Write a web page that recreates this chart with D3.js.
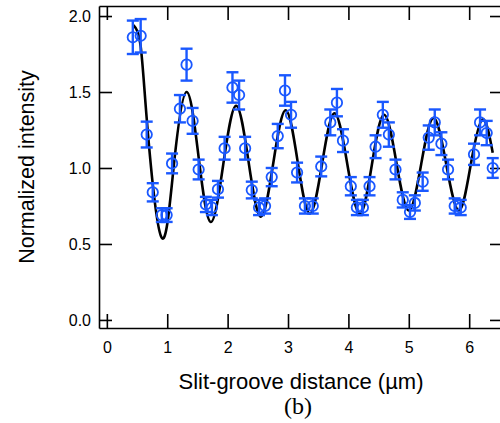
<!DOCTYPE html>
<html>
<head>
<meta charset="utf-8">
<script src="https://cdn.jsdelivr.net/npm/d3@7"></script>
<style>
  body { margin: 0; background: #fff; }
  svg { display: block; }
</style>
</head>
<body>
<svg id="chart"></svg>
<script>
// --- data ---

// measured points (slit-groove distance in µm, normalized intensity, error)
const distance = [0.43, 0.56, 0.66, 0.76, 0.91, 0.99, 1.08, 1.21, 1.32, 1.42,
  1.52, 1.64, 1.74, 1.84, 1.95, 2.08, 2.19, 2.29, 2.40, 2.52,
  2.62, 2.73, 2.83, 2.95, 3.05, 3.15, 3.28, 3.41, 3.55, 3.70,
  3.81, 3.91, 4.04, 4.14, 4.24, 4.35, 4.45, 4.57, 4.67, 4.78,
  4.90, 5.02, 5.10, 5.23, 5.33, 5.43, 5.54, 5.65, 5.76, 5.86,
  6.08, 6.18, 6.29, 6.39];
const intensity = [1.86, 1.87, 1.22, 0.84, 0.69, 0.69, 1.03, 1.39, 1.68, 1.31,
  0.99, 0.76, 0.74, 0.86, 1.13, 1.53, 1.48, 1.13, 0.855, 0.74,
  0.75, 0.94, 1.21, 1.51, 1.35, 0.97, 0.75, 0.75, 1.01, 1.30,
  1.43, 1.18, 0.88, 0.74, 0.74, 0.88, 1.14, 1.35, 1.22, 0.99,
  0.79, 0.71, 0.77, 0.91, 1.20, 1.30, 1.16, 0.99, 0.75, 0.74,
  1.09, 1.30, 1.23, 1.00];
const errorBar = [0.11, 0.11, 0.085, 0.06, 0.045, 0.045, 0.065, 0.09, 0.105, 0.085,
  0.065, 0.05, 0.05, 0.055, 0.075, 0.1, 0.095, 0.075, 0.055, 0.05,
  0.05, 0.06, 0.08, 0.1, 0.085, 0.065, 0.05, 0.05, 0.065, 0.085,
  0.09, 0.075, 0.06, 0.05, 0.05, 0.06, 0.075, 0.085, 0.08, 0.065,
  0.05, 0.045, 0.05, 0.06, 0.08, 0.085, 0.075, 0.065, 0.05, 0.05,
  0.07, 0.085, 0.08, 0.065];

// fitted curve, read at peaks, troughs and crossings
const fitX = [0.44, 0.56, 0.68, 0.91, 1.11, 1.32, 1.52, 1.72, 1.93, 2.14,
  2.345, 2.55, 2.755, 2.96, 3.16, 3.36, 3.565, 3.77, 3.98, 4.19,
  4.39, 4.59, 4.795, 5.0, 5.205, 5.41, 5.62, 5.83, 6.025, 6.22, 6.39];
const fitY = [1.94, 1.80, 1.23, 0.54, 1.02, 1.50, 1.07, 0.645, 1.03, 1.41,
  1.045, 0.68, 1.03, 1.38, 1.04, 0.70, 1.03, 1.36, 1.03, 0.70,
  1.025, 1.35, 1.035, 0.72, 1.025, 1.33, 1.025, 0.72, 1.02, 1.32, 1.10];

// tick labels
const xTicks = [0, 1, 2, 3, 4, 5, 6];
const yTicks = [0, 0.5, 1, 1.5, 2];

// --- setup ---
const width = 500;
const height = 423;
const blue = '#1a58ff';

const svg = d3.select('#chart')
    .attr('width', width)
    .attr('height', height)
    .style('font-family', '"Liberation Sans", Arial, sans-serif');

// frame edges: left 99, right 503 (just past the edge), top 6, bottom 328
const x = d3.scaleLinear().domain([-0.13, 6.56]).range([99, 503]);
const y = d3.scaleLinear().domain([-0.053, 2.066]).range([328, 6]);

// --- axes (ticks point inward on all four sides) ---
function styleAxis(g) {
    g.selectAll('path').attr('stroke', '#000').attr('stroke-width', 1.6);
    g.selectAll('line').attr('stroke', '#000').attr('stroke-width', 1.6);
    g.selectAll('text').attr('fill', '#000').style('font-size', '16px');
}

svg.append('g')
    .attr('transform', 'translate(0,328)')
    .call(d3.axisBottom(x).tickValues(xTicks).tickFormat(d3.format('d'))
        .tickSizeInner(-14).tickSizeOuter(0).tickPadding(14))
    .call(styleAxis);

svg.append('g')
    .attr('transform', 'translate(0,6)')
    .call(d3.axisTop(x).tickValues(xTicks).tickFormat('')
        .tickSizeInner(-14).tickSizeOuter(0))
    .call(styleAxis);

svg.append('g')
    .attr('transform', 'translate(99,0)')
    .call(d3.axisLeft(y).tickValues(yTicks).tickFormat(d3.format('.1f'))
        .tickSizeInner(-13).tickSizeOuter(0).tickPadding(8))
    .call(styleAxis);

svg.append('g')
    .attr('transform', 'translate(503,0)')
    .call(d3.axisRight(y).tickValues(yTicks).tickFormat('')
        .tickSizeInner(-13).tickSizeOuter(0))
    .call(styleAxis);

svg.selectAll('.domain').attr('fill', 'none');

// --- fitted curve ---
const fitPoints = fitX.map((d, i) => [d, fitY[i]]);
svg.append('path')
    .datum(fitPoints)
    .attr('fill', 'none')
    .attr('stroke', '#000')
    .attr('stroke-width', 2.6)
    .attr('d', d3.line().x(d => x(d[0])).y(d => y(d[1])).curve(d3.curveNatural));

// --- measured points with error bars ---
const points = distance.map((d, i) => ({ x: d, y: intensity[i], e: errorBar[i] }));
const pt = svg.append('g').selectAll('g').data(points).enter().append('g')
    .attr('stroke', blue)
    .attr('stroke-width', 2.4)
    .attr('fill', 'none');

pt.append('line')
    .attr('x1', d => x(d.x)).attr('x2', d => x(d.x))
    .attr('y1', d => y(d.y - d.e)).attr('y2', d => y(d.y + d.e));
pt.append('line')
    .attr('x1', d => x(d.x) - 6).attr('x2', d => x(d.x) + 6)
    .attr('y1', d => y(d.y + d.e)).attr('y2', d => y(d.y + d.e));
pt.append('line')
    .attr('x1', d => x(d.x) - 6).attr('x2', d => x(d.x) + 6)
    .attr('y1', d => y(d.y - d.e)).attr('y2', d => y(d.y - d.e));
pt.append('circle')
    .attr('cx', d => x(d.x)).attr('cy', d => y(d.y))
    .attr('r', 5.2)
    .attr('stroke-width', 1.8);

// --- titles ---
svg.append('text')
    .attr('x', 301).attr('y', 389)
    .attr('text-anchor', 'middle')
    .style('font-size', '22px')
    .text('Slit-groove distance (µm)');

svg.append('text')
    .attr('transform', 'translate(34,167) rotate(-90)')
    .attr('text-anchor', 'middle')
    .style('font-size', '21.5px')
    .text('Normalized intensity');

svg.append('text')
    .attr('x', 298).attr('y', 414)
    .attr('text-anchor', 'middle')
    .style('font-family', '"Liberation Serif", "Times New Roman", serif')
    .style('font-size', '24px')
    .text('(b)');
</script>
</body>
</html>
